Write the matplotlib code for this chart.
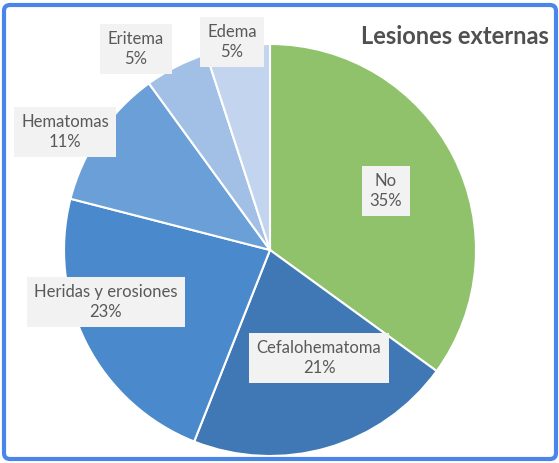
import matplotlib
matplotlib.use('agg')
import matplotlib.pyplot as plt
from matplotlib.patches import FancyBboxPatch

# data
categorias = ['No', 'Cefalohematoma', 'Heridas y erosiones', 'Hematomas', 'Eritema', 'Edema']
porcentajes = [35, 21, 23, 11, 5, 5]
colores = ['#8fc26a', '#3f78b4', '#4a89cb', '#6a9fd8', '#a2c0e6', '#c3d5ee']
titulo = 'Lesiones externas'

# label positions in pixels (x, y from top)
label_pos = [(386, 191), (319, 358), (106, 302), (65, 132), (136, 49), (232, 42)]

W, H = 559, 463
fig = plt.figure(figsize=(W / 100, H / 100), dpi=100)
ax = fig.add_axes([0, 0, 1, 1])

cx, cy, r = 270, H - 250, 206
ax.pie(porcentajes, colors=colores, startangle=90, counterclock=False,
       center=(cx, cy), radius=r, frame=True,
       wedgeprops=dict(edgecolor='white', linewidth=1.5))
ax.set_xlim(0, W)
ax.set_ylim(0, H)
ax.set_aspect('equal')
ax.axis('off')

for cat, p, (x, y) in zip(categorias, porcentajes, label_pos):
    ax.text(x, H - y, '%s\n%d%%' % (cat, p), ha='center', va='center',
            fontsize=12, family='Lato', color='#595959', linespacing=1.3,
            bbox=dict(boxstyle='square,pad=0.45', fc='#f2f2f2', ec='none'))

ax.text(549, H - 36, titulo, ha='right', va='center', fontsize=17,
        family='Lato', fontweight='bold', color='#505050')

border = FancyBboxPatch((4, 4), W - 7, H - 9, boxstyle='round,pad=0,rounding_size=6',
                        fc='none', ec='#4a86e8', lw=3, transform=None)
fig.patches.append(border)

plt.savefig('out.png', dpi=100)
